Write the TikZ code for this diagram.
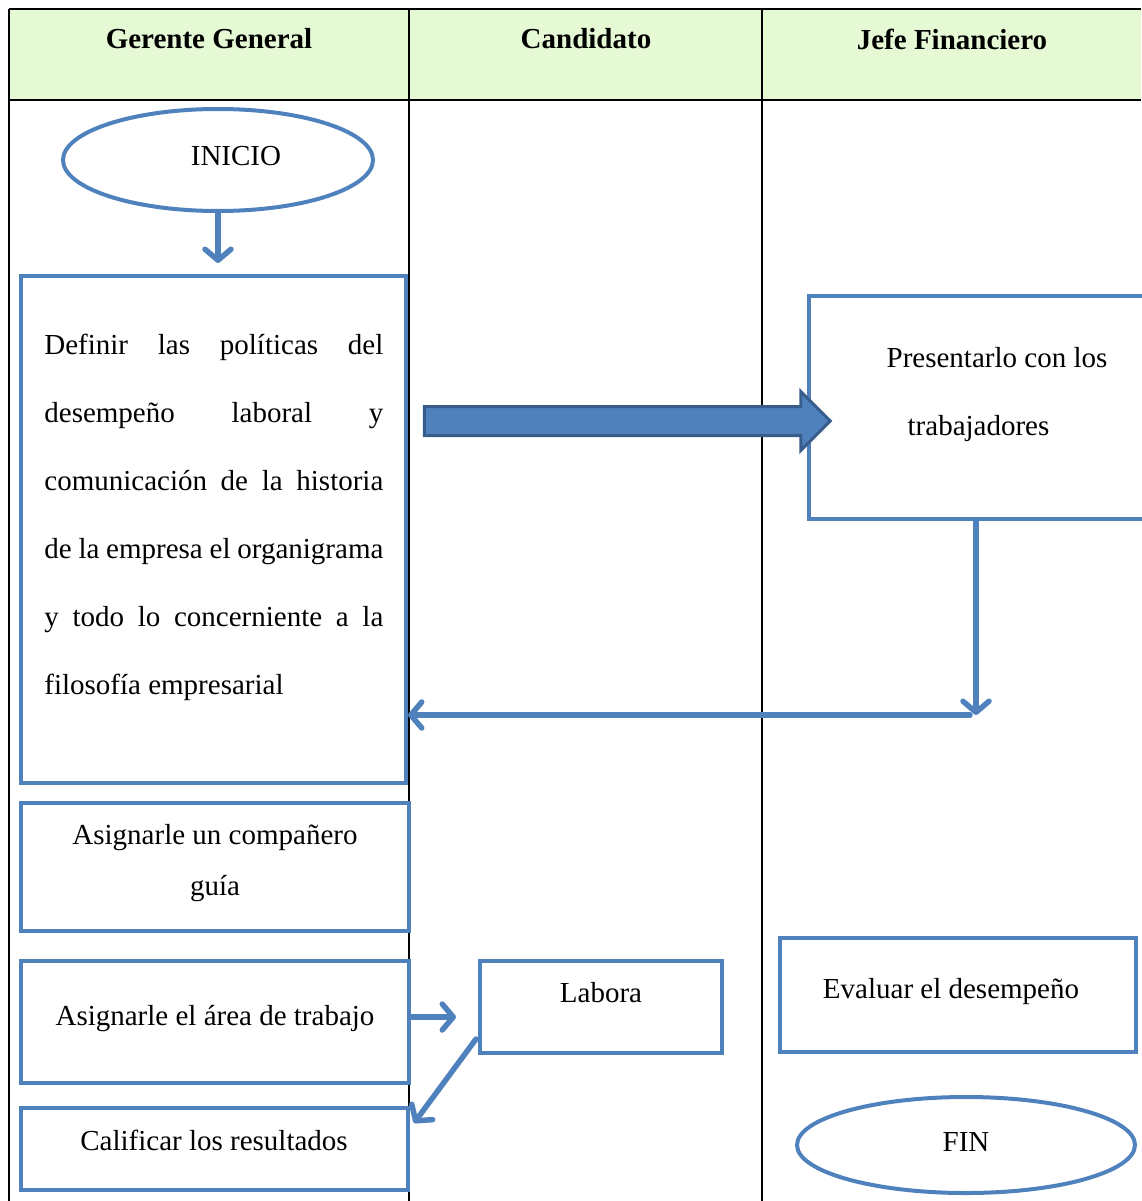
\documentclass[tikz,border=0pt]{standalone}
\usepackage{fontspec}
\setmainfont{Liberation Serif}
\usetikzlibrary{arrows.meta,shapes.geometric,shapes.arrows}

\definecolor{flowblue}{RGB}{79,129,189}
\definecolor{flowdark}{RGB}{56,93,138}
\definecolor{headgreen}{RGB}{228,249,212}

\tikzset{every picture/.style={line width=0.75pt}}
\tikzset{
  flowbox/.style={draw=flowblue, line width=4pt, rectangle, inner sep=0pt},
  flowend/.style={draw=flowblue, line width=4pt, ellipse, inner sep=0pt},
  flowarrow/.style={draw=flowblue, line width=5.5pt, line cap=round,
    -{Straight Barb[length=11pt,width=26pt,round]}},
  laneline/.style={line width=2pt},
  txt/.style={inner sep=0.75pt, font=\fontsize{29}{34}\selectfont},
  headtxt/.style={txt, font=\fontsize{29}{34}\selectfont\bfseries}
}

\begin{document}
\begin{tikzpicture}[x=1pt,y=1pt,yscale=-1,xscale=1]
\useasboundingbox (0,0) rectangle (1141,1201);

%Lanes header
\fill[headgreen] (9,9) rectangle (1141,100);
\draw[laneline] (9,9) -- (1141,9);
\draw[laneline] (9,100) -- (1141,100);
\draw[laneline] (9,9) -- (9,1201);
\draw[laneline] (409,9) -- (409,1201);
\draw[laneline] (762,9) -- (762,1201);

% Text Node
\node[headtxt] (hdGerente) at (209,39) {Gerente General};
% Text Node
\node[headtxt] (hdCandidato) at (586,39) {Candidato};
% Text Node
\node[headtxt] (hdJefe) at (952,39) {Jefe Financiero};

%Shapes
\node[flowend, minimum width=310pt, minimum height=102pt] (inicio) at (218,160) {};
\node[flowbox, minimum width=385pt, minimum height=507pt] (definir) at (213.5,529.5) {};
\node[flowbox, minimum width=341pt, minimum height=223pt] (presentar) at (979.5,407.5) {};
\node[flowbox, minimum width=388pt, minimum height=128pt] (companero) at (215,867) {};
\node[flowbox, minimum width=388pt, minimum height=122pt] (area) at (215,1022) {};
\node[flowbox, minimum width=242pt, minimum height=92pt] (labora) at (601,1007) {};
\node[flowbox, minimum width=387pt, minimum height=82pt] (calificar) at (214.5,1149) {};
\node[flowbox, minimum width=356pt, minimum height=114pt] (evaluar) at (958,995) {};
\node[flowend, minimum width=338pt, minimum height=96pt] (fin) at (966,1145) {};

%Block arrow
\node[single arrow, fill=flowblue, draw=flowdark, line width=3pt, inner xsep=0pt, inner ysep=13pt,
  minimum height=406pt, single arrow head extend=15pt,
  single arrow head indent=0pt] (bigflow) at (620,421) {};

%Connectors
\coordinate (turn) at (976,715);
\draw[flowarrow, shorten >=11pt] (inicio.south) -- (inicio.south |- definir.north);
\draw[flowarrow] (presentar.south -| turn) -- (turn);
\draw[flowarrow, shorten <=6pt] (turn) -- (turn -| definir.east);
\draw[flowarrow, shorten >=22pt] ([yshift=-5pt]area.east) -- ([yshift=-5pt]labora.west |- area.east);
\draw[flowarrow] ([xshift=-2pt,yshift=-16pt]labora.south west) -- ([xshift=4pt,yshift=17pt]calificar.north east);

% Text Node
\node[txt] (inicioTxt) at (236,156) {INICIO};
% Text Node
\node[txt, anchor=north west, inner sep=0pt, text width=339pt, align=justify,
  font=\fontsize{29}{68}\selectfont] (definirTxt) at (44,334)
  {Definir las políticas del\linebreak desempeño laboral y\linebreak comunicación de la historia\linebreak de la empresa el organigrama\linebreak y todo lo concerniente a la\linebreak filosofía empresarial};
% Text Node
\node[txt, align=left, font=\fontsize{29}{68}\selectfont] (presentarTxt) at (997,395) {Presentarlo con los\\\hspace*{21pt}trabajadores};
% Text Node
\node[txt, align=center, font=\fontsize{29}{51}\selectfont] (companeroTxt) at (215,863) {Asignarle un compañero\\guía};
% Text Node
\node[txt] (areaTxt) at (215,1019) {Asignarle el área de trabajo};
% Text Node
\node[txt] (laboraTxt) at (601,993) {Labora};
% Text Node
\node[txt] (calificarTxt) at (214,1140) {Calificar los resultados};
% Text Node
\node[txt] (evaluarTxt) at (951,992) {Evaluar el desempeño};
% Text Node
\node[txt] (finTxt) at (966,1142) {FIN};

\end{tikzpicture}
\end{document}
